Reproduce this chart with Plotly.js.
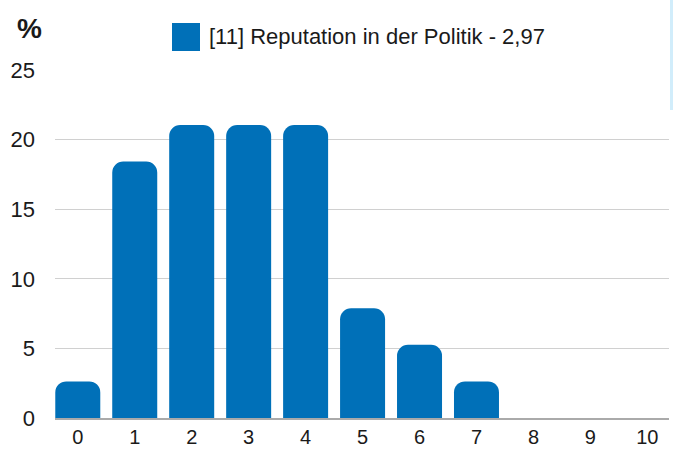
<!DOCTYPE html>
<html>
<head>
<meta charset="utf-8">
<script src="https://cdn.plot.ly/plotly-3.0.1.min.js"></script>
<style>html,body{margin:0;padding:0;background:#fff;}#chart{width:673px;height:450px;}</style>
</head>
<body>
<div id="chart"></div>
<script>
const categories = ["0","1","2","3","4","5","6","7","8","9","10"];
const values = [2.63, 18.42, 21.05, 21.05, 21.05, 7.89, 5.26, 2.63, 0, 0, 0];
const seriesName = "[11] Reputation in der Politik - 2,97";
const yTicks = [0, 5, 10, 15, 20, 25];
const unitLabel = "%";

const FONT = '"Liberation Sans", Arial, sans-serif';
const BLUE = '#0070b8';

const trace = {
  type: 'bar',
  x: categories,
  y: values,
  name: seriesName,
  marker: {color: BLUE},
  showlegend: false,
  hoverinfo: 'none'
};

const plotW = 673 - 55 - 4, plotH = 450 - 70 - 32;
function px(x){ return (x - 55) / plotW; }
function py(y){ return (450 - 32 - y) / plotH; }

const layout = {
  width: 673, height: 450,
  margin: {l: 55, r: 4, t: 70, b: 32},
  paper_bgcolor: '#fff', plot_bgcolor: '#fff',
  font: {family: FONT, size: 21, color: '#1a1a1a'},
  bargap: 0.21,
  barcornerradius: 11,
  xaxis: {
    type: 'category',
    range: [-0.4, 10.38],
    showgrid: false, zeroline: false,
    showline: true, linecolor: '#aaaaaa', linewidth: 2,
    ticks: '', ticklabelstandoff: 0,
    tickfont: {family: FONT, size: 20, color: '#1a1a1a'}
  },
  yaxis: {
    range: [0, 25],
    tickvals: yTicks,
    ticktext: yTicks.map(String),
    showgrid: true, gridcolor: '#d0d0d0', gridwidth: 1,
    zeroline: false, showline: false,
    ticks: '', ticklabelstandoff: 19,
    tickfont: {family: FONT, size: 22, color: '#1a1a1a'}
  },
  shapes: [
    {type: 'rect', xref: 'paper', yref: 'paper', x0: px(172), x1: px(200), y0: py(51), y1: py(23), fillcolor: BLUE, line: {width: 0}},
    {type: 'rect', xref: 'paper', yref: 'paper', x0: px(670), x1: px(673), y0: py(110), y1: py(0), fillcolor: 'rgba(190,230,250,0.7)', line: {width: 0}}
  ],
  annotations: [
    {text: '<b>' + unitLabel + '</b>', xref: 'paper', yref: 'paper', x: px(29), y: py(28), xanchor: 'center', yanchor: 'middle', showarrow: false, font: {family: FONT, size: 28, color: '#1a1a1a'}},
    {text: seriesName, xref: 'paper', yref: 'paper', x: px(207), y: py(37), xanchor: 'left', yanchor: 'middle', showarrow: false, font: {family: FONT, size: 22, color: '#1a1a1a'}}
  ]
};

Plotly.newPlot('chart', [trace], layout, {staticPlot: true, displayModeBar: false});
</script>
</body>
</html>
